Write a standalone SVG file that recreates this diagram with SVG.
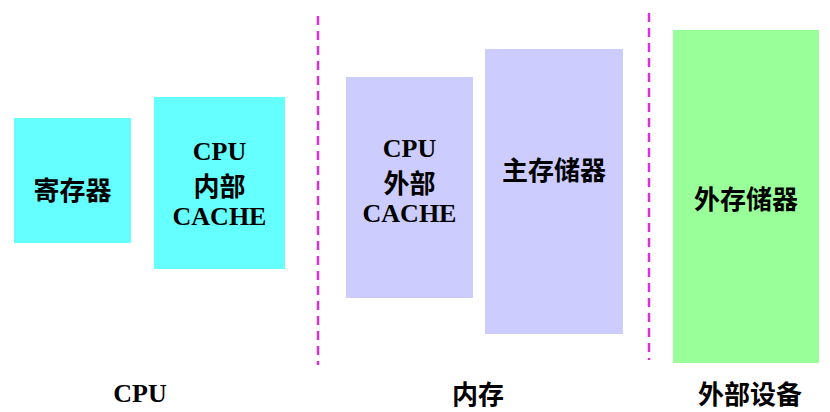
<svg xmlns="http://www.w3.org/2000/svg" width="830" height="412" viewBox="0 0 830 412">
<style>
text{font-family:"Liberation Serif","Noto Sans CJK SC",serif;font-weight:bold;font-size:26px;fill:#000;text-anchor:middle;dominant-baseline:central}
.cjk{font-family:"Noto Sans CJK SC",sans-serif;font-size:26px}
.div{stroke:#D633D6;stroke-width:2.5;stroke-dasharray:9,6;fill:none}
</style>
<rect width="830" height="412" fill="#fff"/>
<g id="dividers">
<line class="div" x1="318" y1="16" x2="318" y2="365"/>
<line class="div" x1="649" y1="13" x2="649" y2="360"/>
</g>
<g id="reg">
<rect x="14" y="118" width="117" height="125" fill="#66FFFF"/>
<text class="cjk" x="72.5" y="188">寄存器</text>
</g>
<g id="cpu-cache">
<rect x="154" y="97" width="131" height="172" fill="#66FFFF"/>
<text x="219.5" y="151">CPU</text>
<text class="cjk" x="219.5" y="184">内部</text>
<text x="219.5" y="216">CACHE</text>
</g>
<g id="ext-cache">
<rect x="346" y="77" width="127" height="221" fill="#CCCCFF"/>
<text x="409.5" y="148">CPU</text>
<text class="cjk" x="409.5" y="181">外部</text>
<text x="409.5" y="213">CACHE</text>
</g>
<g id="main-mem">
<rect x="485" y="49" width="138" height="285" fill="#CCCCFF"/>
<text class="cjk" x="554" y="168">主存储器</text>
</g>
<g id="ext-mem">
<rect x="673" y="30" width="146" height="333" fill="#99FF99"/>
<text class="cjk" x="746" y="197">外存储器</text>
</g>
<g id="labels">
<text x="140" y="393">CPU</text>
<text class="cjk" x="478" y="392">内存</text>
<text class="cjk" x="750" y="392">外部设备</text>
</g>
</svg>
